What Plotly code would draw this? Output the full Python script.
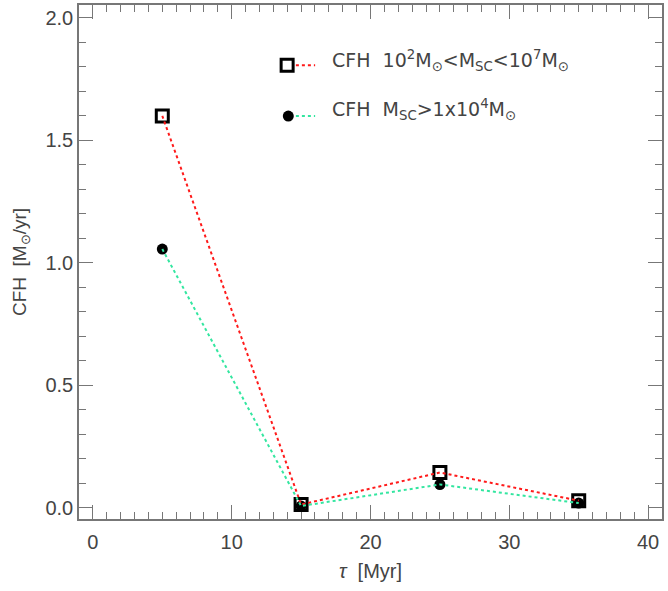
import plotly.graph_objects as go

tau = [5, 15, 25, 35]
cfh_all = [1.60, 0.012, 0.143, 0.028]
cfh_massive = [1.056, 0.006, 0.094, 0.018]

label_all = "CFH  10<sup>2</sup>M<sub>⊙</sub>&lt;M<sub>SC</sub>&lt;10<sup>7</sup>M<sub>⊙</sub>"
label_massive = "CFH  M<sub>SC</sub>&gt;1x10<sup>4</sup>M<sub>⊙</sub>"

RED = "#ff1a1a"
GREEN = "#33e6a0"
FONT = "Liberation Sans"
LEGFONT = "DejaVu Sans"
TXT = "#444444"
AX = "#777777"

fig = go.Figure()
# markers
fig.add_trace(go.Scatter(x=tau, y=cfh_massive, mode="markers",
                         marker=dict(symbol="circle", size=11, color="black"),
                         showlegend=False))
fig.add_trace(go.Scatter(x=tau, y=cfh_all, mode="markers",
                         marker=dict(symbol="square-open", size=12, color="black",
                                     line=dict(width=3, color="black")),
                         showlegend=False))
# dotted lines drawn on top
fig.add_trace(go.Scatter(x=tau, y=cfh_all, mode="lines",
                         line=dict(color=RED, width=2, dash="dot"), showlegend=False))
fig.add_trace(go.Scatter(x=tau, y=cfh_massive, mode="lines",
                         line=dict(color=GREEN, width=2, dash="dot"), showlegend=False))
# invisible trace to anchor the mirrored tick axes
fig.add_trace(go.Scatter(x=tau, y=cfh_all, xaxis="x3", yaxis="y3", mode="markers",
                         marker=dict(opacity=0), showlegend=False, hoverinfo="skip"))

# custom legend on an overlay paper-like axis
leg_y = [0.883, 0.784]
leg_text_y = [0.893, 0.796]
fig.add_trace(go.Scatter(x=[0.357], y=[leg_y[0]], xaxis="x2", yaxis="y2", mode="markers",
                         marker=dict(symbol="square-open", size=12, color="black",
                                     line=dict(width=3, color="black")),
                         showlegend=False, hoverinfo="skip"))
fig.add_trace(go.Scatter(x=[0.359], y=[leg_y[1]], xaxis="x2", yaxis="y2", mode="markers",
                         marker=dict(symbol="circle", size=11, color="black"),
                         showlegend=False, hoverinfo="skip"))
for yy, col in zip(leg_y, [RED, GREEN]):
    fig.add_trace(go.Scatter(x=[0.372, 0.405], y=[yy, yy], xaxis="x2", yaxis="y2", mode="lines",
                             line=dict(color=col, width=2, dash="dot"),
                             showlegend=False, hoverinfo="skip"))
for yy, t in zip(leg_text_y, [label_all, label_massive]):
    fig.add_annotation(x=0.43, y=yy, xref="x2", yref="y2", text=t, showarrow=False,
                       xanchor="left", yanchor="middle",
                       font=dict(family=LEGFONT, size=19, color=TXT))

XR = [-1, 41]
YR = [-0.047, 2.053]

axis_common = dict(showgrid=False, zeroline=False, showline=True, linecolor=AX, linewidth=1.5,
                   mirror="ticks", ticks="inside", tickcolor=AX, tickwidth=1, automargin=False,
                   tickfont=dict(family=FONT, size=20, color=TXT))

fig.update_layout(
    width=668, height=591,
    margin=dict(l=79, r=6, t=5, b=72),
    plot_bgcolor="white", paper_bgcolor="white",
    xaxis=dict(range=XR, dtick=10, tick0=0, ticklen=14, ticklabelstandoff=4,
               minor=dict(dtick=1, ticklen=7, ticks="inside", tickcolor=AX),
               title=dict(text="<i>τ</i>  [Myr]", font=dict(family=FONT, size=20, color=TXT), standoff=12),
               **axis_common),
    yaxis=dict(range=YR, dtick=0.5, tick0=0, tickformat=".1f", ticklen=14,
               minor=dict(dtick=0.1, ticklen=7, ticks="inside", tickcolor=AX),
               title=dict(text="CFH  [M<sub>⊙</sub>/yr]", font=dict(family=FONT, size=19, color=TXT), standoff=14),
               **axis_common),
    xaxis3=dict(range=XR, overlaying="x", side="top", anchor="y", showticklabels=False,
                showgrid=False, zeroline=False, showline=False, ticks="inside", ticklen=14,
                tickcolor=AX, dtick=10, tick0=0, automargin=False,
                minor=dict(dtick=1, ticklen=7, ticks="inside", tickcolor=AX)),
    yaxis3=dict(range=YR, overlaying="y", side="right", anchor="x", showticklabels=False,
                showgrid=False, zeroline=False, showline=False, ticks="inside", ticklen=14,
                tickcolor=AX, dtick=0.5, tick0=0, automargin=False,
                minor=dict(dtick=0.1, ticklen=7, ticks="inside", tickcolor=AX)),
    xaxis2=dict(range=[0, 1], overlaying="x", visible=False, fixedrange=True),
    yaxis2=dict(range=[0, 1], overlaying="y", visible=False, fixedrange=True),
)

fig.write_html("out.html", config={"displayModeBar": False},
               post_script="document.body.style.margin='0';document.body.style.padding='0';")
